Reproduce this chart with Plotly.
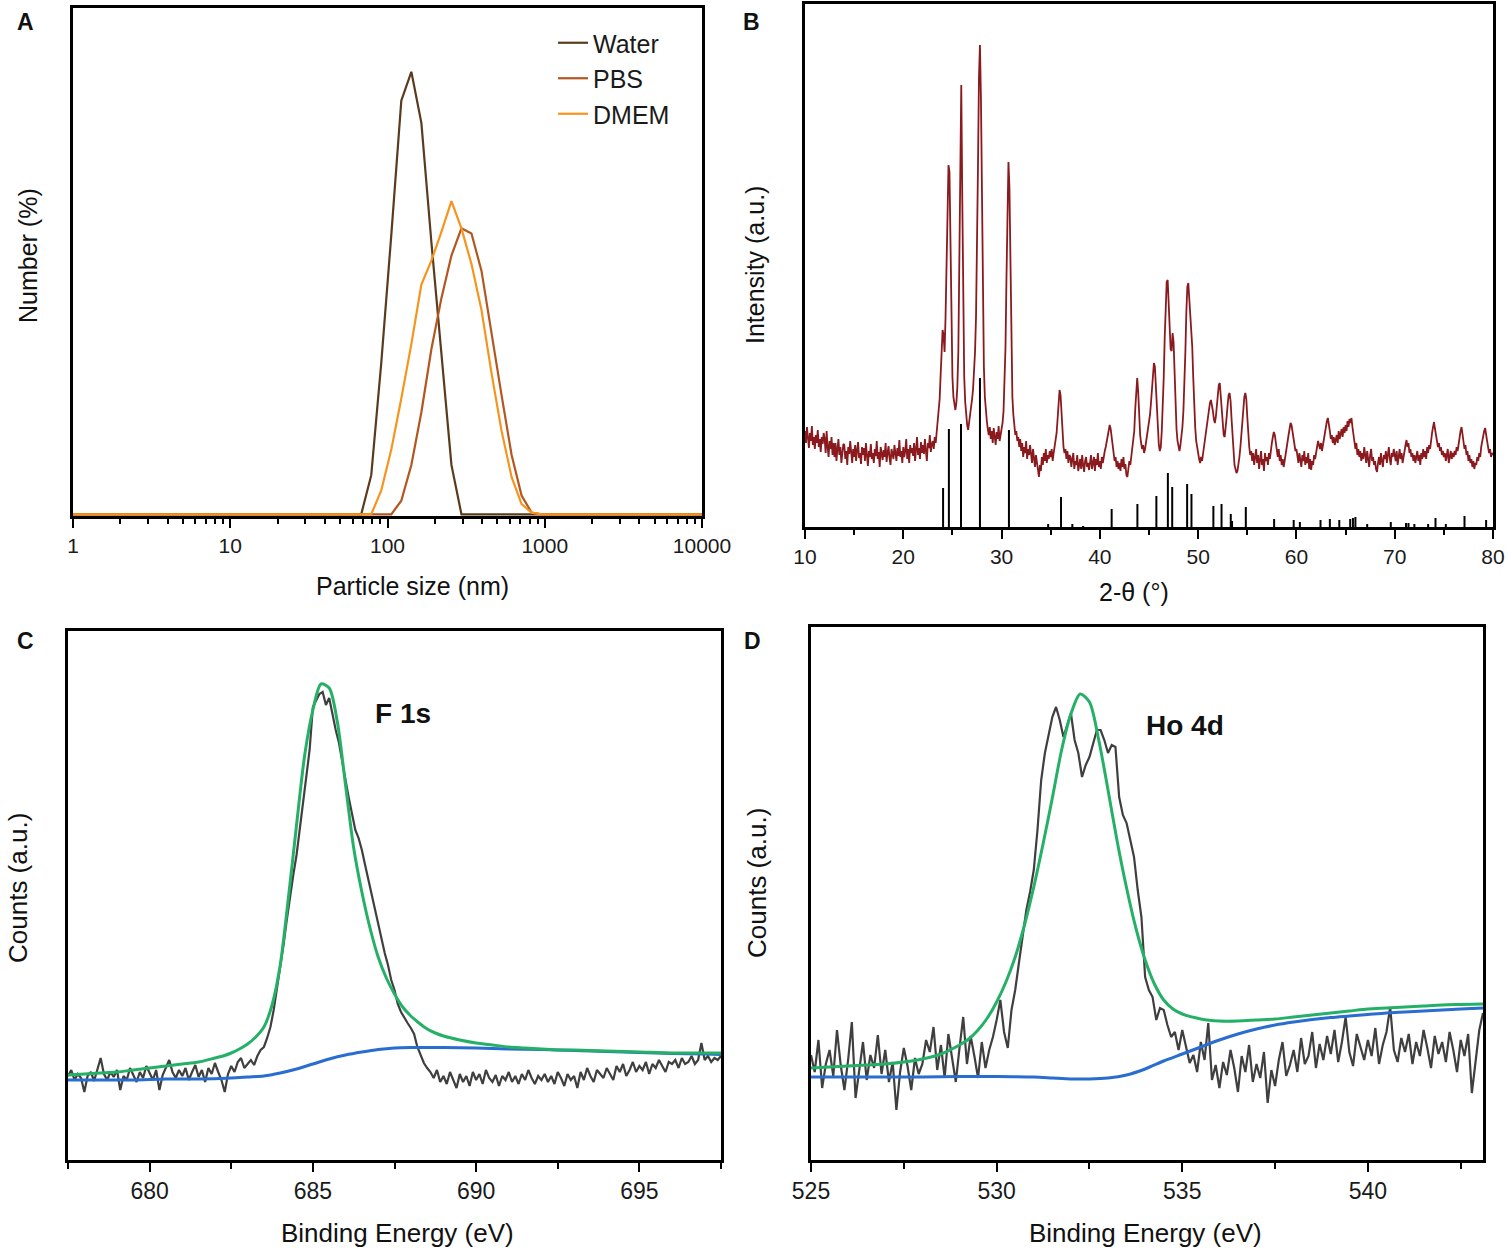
import numpy as np
import plotly.graph_objects as go

W, H = 1510, 1255

# ---------------- Panel A : DLS size distribution ----------------
size_nm = [1, 68.06, 78.82, 91.28, 105.7, 122.4, 141.8, 164.2, 190.1, 220.2, 255.0, 295.3,
           342.0, 396.1, 458.7, 531.2, 615.1, 712.4, 825.0, 955.4, 10000]
water = [0, 0, 2.3, 8.9, 16.4, 24.3, 26.0, 23.0, 16.0, 9.3, 2.9, 0,
         0, 0, 0, 0, 0, 0, 0, 0, 0]
pbs = [0, 0, 0, 0, 0, 0.8, 2.9, 6.0, 9.7, 12.7, 15.2, 16.8,
       16.5, 14.3, 10.6, 7.0, 3.5, 1.1, 0.1, 0, 0]
dmem = [0, 0, 0, 1.4, 3.8, 6.8, 10.0, 13.5, 14.9, 16.6, 18.4, 16.8,
        14.7, 12.0, 8.3, 4.9, 2.2, 0.6, 0.1, 0, 0]
a_ticks = [1, 10, 100, 1000, 10000]
a_ticktext = ["1", "10", "100", "1000", "10000"]

# ---------------- Panel B : XRD ----------------
theta_start, theta_step = 10.0, 0.1
xrd = [
    96, 84, 100, 88, 79, 94, 86, 101, 82, 90,
    78, 92, 84, 97, 80, 88, 75, 90, 83, 94,
    88, 74, 96, 80, 70, 86, 78, 90, 72, 84,
    70, 84, 66, 78, 88, 72, 80, 64, 76, 83,
    82, 68, 76, 62, 80, 73, 86, 70, 64, 78,
    70, 82, 66, 77, 85, 69, 74, 63, 80, 72,
    79, 66, 84, 72, 61, 76, 70, 83, 68, 74,
    64, 78, 71, 86, 68, 75, 60, 80, 73, 67,
    77, 70, 84, 65, 74, 81, 69, 62, 78, 72,
    68, 82, 74, 66, 79, 71, 87, 70, 76, 64,
    80, 70, 76, 88, 68, 78, 64, 82, 74, 79,
    71, 84, 66, 77, 90, 72, 79, 68, 85, 74,
    82, 73, 88, 76, 66, 84, 79, 92, 75, 83,
    86, 78, 90, 84, 95, 100, 112, 128, 152, 182,
    197, 192, 175, 210, 260, 320, 362, 355, 270, 190,
    150, 130, 120, 117, 124, 140, 175, 260, 380, 442,
    330, 210, 150, 125, 110, 102, 97, 104, 112, 120,
    128, 138, 152, 175, 210, 270, 360, 450, 482, 430,
    320, 220, 160, 130, 114, 106, 98, 92, 100, 88,
    96, 84, 99, 90, 82, 95, 88, 101, 86, 92,
    98, 104, 116, 140, 180, 250, 330, 365, 340, 250,
    170, 130, 112, 100, 92, 96, 86, 90, 80, 88,
    76, 84, 70, 80, 74, 86, 68, 78, 72, 82,
    74, 64, 78, 68, 60, 72, 66, 58, 50, 62,
    56, 70, 62, 74, 66, 78, 64, 72, 68, 76,
    70, 78, 66, 74, 80, 84, 94, 108, 125, 137,
    132, 110, 92, 80, 74, 78, 68, 76, 64, 72,
    70, 60, 68, 74, 58, 66, 62, 72, 56, 64,
    68, 58, 72, 62, 55, 66, 70, 60, 64, 57,
    66, 72, 58, 64, 70, 56, 68, 62, 74, 60,
    66, 58, 70, 64, 72, 76, 80, 86, 94, 100,
    102, 98, 90, 80, 74, 66, 70, 60, 66, 58,
    64, 56, 68, 60, 70, 58, 63, 52, 50, 60,
    66, 62, 70, 76, 84, 96, 118, 140, 149, 135,
    110, 92, 84, 78, 82, 74, 78, 84, 90, 98,
    104, 112, 124, 140, 156, 164, 160, 140, 112, 92,
    82, 76, 80, 96, 120, 150, 190, 225, 245, 247,
    225, 195, 178, 176, 194, 185, 150, 120, 98, 86,
    80, 76, 82, 90, 100, 116, 140, 175, 215, 240,
    244, 228, 205, 194, 180, 150, 120, 100, 86, 78,
    72, 68, 64, 70, 66, 74, 80, 88, 96, 104,
    112, 118, 124, 127, 122, 116, 108, 104, 110, 120,
    132, 142, 144, 130, 112, 98, 92, 90, 98, 110,
    122, 132, 134, 126, 108, 88, 72, 62, 58, 54,
    56, 62, 70, 80, 92, 106, 120, 130, 134, 128,
    110, 92, 80, 72, 76, 66, 74, 62, 70, 78,
    64, 72, 58, 70, 76, 62, 68, 56, 74, 66,
    70, 62, 74, 68, 78, 84, 90, 95, 92, 84,
    76, 70, 78, 66, 72, 62, 68, 60, 66, 74,
    80, 86, 92, 98, 104, 102, 96, 88, 82, 76,
    78, 70, 64, 74, 68, 60, 72, 66, 76, 62,
    70, 64, 74, 58, 68, 57, 66, 62, 72, 68,
    74, 80, 86, 82, 78, 84, 76, 82, 88, 96,
    100, 106, 109, 104, 96, 88, 92, 84, 90, 82,
    86, 92, 84, 96, 88, 94, 98, 90, 100, 94,
    102, 96, 106, 100, 108, 104, 109, 100, 92, 84,
    78, 84, 72, 78, 70, 76, 66, 74, 68, 80,
    72, 64, 76, 68, 60, 72, 78, 66, 70, 62,
    66, 58, 55, 64, 70, 62, 74, 66, 60, 72,
    68, 76, 64, 72, 80, 68, 62, 74, 70, 78,
    72, 66, 76, 62, 70, 78, 68, 74, 64, 72,
    76, 82, 87, 80, 84, 74, 78, 70, 74, 66,
    72, 64, 70, 76, 66, 72, 62, 74, 68, 78,
    70, 76, 68, 80, 74, 82, 78, 88, 94, 100,
    105, 98, 90, 86, 80, 84, 76, 80, 72, 76,
    70, 74, 66, 72, 78, 64, 70, 76, 68, 74,
    70, 76, 72, 80, 76, 84, 90, 96, 100, 94,
    86, 78, 82, 72, 76, 66, 72, 64, 68, 60,
    66, 58, 64, 62, 70, 66, 74, 70, 80, 86,
    92, 96, 99, 94, 86, 80, 74, 78, 70, 74,
    72,
]
stick_pos = [24.05, 24.64, 25.87, 27.8, 30.75, 34.74, 36.05, 37.2, 38.3, 41.2, 43.82, 45.75,
             46.92, 47.36, 48.88, 49.32, 51.55, 52.38, 53.32, 53.45, 54.85, 57.73, 59.72, 60.35,
             62.45, 63.4, 64.36, 65.47, 65.75, 66.0, 67.2, 69.6, 71.15, 71.4, 72.0, 73.4, 74.15,
             75.2, 77.1, 79.3]
stick_h = [39, 98, 103, 149, 97, 3, 30, 3, 1, 18, 23, 31,
           54, 40, 43, 33, 21, 23, 13, 6, 20, 8, 7, 5,
           7, 8, 7, 8, 9, 10, 3, 5, 4, 4, 3, 3, 9,
           3, 11, 7]

# ---------------- Panel C : XPS F 1s ----------------
c_start, c_step = 677.5, 0.1
c_counts = [
    84, 90, 80, 86, 82,
    68, 84, 88, 79, 92, 102, 86, 80, 88, 83,
    90, 70, 84, 80, 92, 85, 78, 88, 82, 94,
    86, 80, 90, 70, 85, 92, 100, 88, 82, 90,
    84, 92, 80, 88, 95, 83, 90, 78, 92, 86,
    97, 88, 80, 68, 86, 94, 88, 98, 102, 92,
    96, 100, 95, 104, 110, 113, 122, 133, 150, 172,
    190, 215, 240, 265, 285, 305, 330, 360, 385, 410,
    453, 460, 466, 468, 455, 462, 445, 430, 417, 400,
    380, 362, 345, 330, 322, 310, 295, 280, 267, 250,
    238, 222, 207, 195, 180, 170, 156, 148, 142, 137,
    132, 126, 113, 104, 97, 92, 88, 82, 90, 78,
    84, 76, 88, 80, 72, 86, 78, 84, 74, 88,
    80, 86, 76, 90, 82, 78, 85, 74, 84, 80,
    88, 78, 84, 76, 86, 80, 90, 82, 76, 84,
    80, 86, 78, 84, 76, 88, 82, 74, 86, 80,
    84, 72, 88, 80, 92, 84, 78, 90, 86, 82,
    92, 86, 80, 94, 88, 96, 84, 90, 98, 88,
    94, 90, 98, 86, 96, 92, 100, 94, 88, 98,
    96, 100, 92, 102, 96, 98, 104, 96, 100, 117,
    100, 104, 98, 102, 100, 104,
]
c_fit_x = [677.5, 678.0, 678.5, 679.0, 679.5, 680.0, 680.5, 681.0, 681.5, 682.0, 682.25, 682.5,
           682.75, 683.0, 683.25, 683.5, 683.75, 684.0, 684.25, 684.5, 684.75, 685.0, 685.25,
           685.5, 685.75, 686.0, 686.25, 686.5, 686.75, 687.0, 687.25, 687.5, 687.75, 688.0,
           688.25, 688.5, 688.75, 689.0, 689.5, 690.0, 690.5, 691.0, 691.5, 692.0, 692.5,
           693.0, 694.0, 695.0, 696.0, 697.0, 697.5]
c_fit_y = [85, 86, 87, 88, 90, 92, 94, 96, 98, 102, 104, 107,
           111, 116, 123, 133, 155, 195, 262, 335, 405, 450, 476,
           472, 438, 375, 312, 268, 232, 203, 182, 166, 153, 144,
           137, 131, 127, 124, 120, 117, 115, 113, 112, 111, 110,
           110, 109, 108, 107, 107, 107]
c_bg_x = [677.5, 678.5, 679.5, 680.5, 681.5, 682.5, 683.0, 683.5, 684.0, 684.5, 685.0, 685.5,
          686.0, 686.5, 687.0, 687.5, 688.0, 689.0, 690.0, 691.0, 692.0, 693.0, 694.0, 695.0,
          696.0, 697.0, 697.5]
c_bg_y = [80, 80, 80, 81, 81, 82, 83, 84, 87, 91, 96, 101,
          105, 108, 110.5, 112, 112.5, 112.5, 112, 111, 110.5, 109.5, 108.5, 107.5,
          106.5, 106, 105.5]

# ---------------- Panel D : XPS Ho 4d ----------------
d_start, d_step = 525.0, 0.1
d_counts = [
    105, 88, 120, 72, 96, 110, 84, 130, 95, 70,
    100, 138, 62, 90, 118, 80, 105, 92, 125, 86,
    110, 78, 98, 50, 88, 112, 94, 70, 102, 86,
    96, 120, 108, 133, 90, 115, 82, 126, 100, 78,
    112, 143, 96, 124, 104, 82, 118, 92, 110, 123,
    140, 160, 128, 112, 150, 170, 197, 225, 250, 268,
    290, 330, 380, 407, 425, 443, 453, 440, 423, 435,
    447, 420, 407, 383, 395, 403, 418, 430, 430, 420,
    407, 415, 413, 363, 345, 337, 320, 303, 270, 243,
    183, 170, 163, 140, 152, 150, 135, 123, 128, 110,
    130, 115, 97, 105, 88, 118, 100, 137, 80, 95,
    72, 98, 85, 110, 92, 68, 104, 88, 115, 78,
    96, 82, 108, 57, 90, 74, 100, 118, 84, 95,
    110, 88, 122, 96, 104, 128, 92, 116, 100, 124,
    106, 130, 98, 118, 143, 108, 94, 126, 112, 100,
    120, 104, 132, 96, 115, 128, 153, 110, 98, 122,
    108, 126, 96, 118, 104, 130, 112, 92, 124, 106,
    118, 98, 128, 110, 88, 120, 104, 126, 67, 100,
    130, 147,
]
d_fit_x = [525.0, 525.5, 526.0, 526.5, 527.0, 527.5, 528.0, 528.5, 529.0, 529.25, 529.5, 529.75,
           530.0, 530.25, 530.5, 530.75, 531.0, 531.25, 531.5, 531.75, 532.0, 532.25, 532.5,
           532.75, 533.0, 533.25, 533.5, 533.75, 534.0, 534.25, 534.5, 534.75, 535.0, 535.5,
           536.0, 536.5, 537.0, 537.5, 538.0, 538.5, 539.0, 539.5, 540.0, 540.5, 541.0, 541.5,
           542.0, 542.5, 543.1]
d_fit_y = [92, 93, 94, 95, 96, 98, 101, 106, 115, 121, 130, 142,
           158, 178, 203, 235, 273, 316, 362, 410, 446, 466, 458,
           420, 370, 318, 272, 232, 200, 176, 160, 151, 146, 141,
           139, 139, 140, 141, 143, 145, 147, 149, 151, 152, 153, 154,
           155, 155.5, 156]
d_bg_x = [525, 526, 527, 528, 529, 530, 531, 531.5, 532, 532.5, 533, 533.5, 534, 534.5, 535,
          535.5, 536, 536.5, 537, 537.5, 538, 538.5, 539, 539.5, 540, 540.5, 541, 541.5, 542,
          542.5, 543.1]
d_bg_y = [83, 83, 83, 83, 83.5, 83.5, 83, 82, 81, 81, 82, 85, 91, 99, 106,
          113, 120, 126, 131, 135, 138, 140.5, 142.5, 144, 145.5, 147, 148, 149, 150,
          151, 152]

# ---------------- derived x grids ----------------
theta = np.round(theta_start + theta_step * np.arange(len(xrd)), 2)
c_be = np.round(c_start + c_step * np.arange(len(c_counts)), 2)
d_be = np.round(d_start + d_step * np.arange(len(d_counts)), 2)

stick_x, stick_y = [], []
for p, h in zip(stick_pos, stick_h):
    stick_x += [p, p, None]
    stick_y += [0, h, None]

FONT = "Liberation Sans, Arial, Helvetica, sans-serif"
GREY = "#3f3f3f"
GREEN = "#25b067"
BLUE = "#2a6dd0"

fig = go.Figure()

# Panel A
fig.add_trace(go.Scatter(x=size_nm, y=water, name="Water", mode="lines",
                         line=dict(color="#5a3b1d", width=2.2), xaxis="x", yaxis="y"))
fig.add_trace(go.Scatter(x=size_nm, y=pbs, name="PBS", mode="lines",
                         line=dict(color="#b3561f", width=2.2), xaxis="x", yaxis="y"))
fig.add_trace(go.Scatter(x=size_nm, y=dmem, name="DMEM", mode="lines",
                         line=dict(color="#f7941e", width=2.2), xaxis="x", yaxis="y"))

# Panel B
fig.add_trace(go.Scatter(x=theta, y=xrd, mode="lines", showlegend=False,
                         line=dict(color="#8b1a1e", width=1.8), xaxis="x2", yaxis="y2"))
fig.add_trace(go.Scatter(x=stick_x, y=stick_y, mode="lines", showlegend=False,
                         line=dict(color="black", width=2), xaxis="x2", yaxis="y2"))

# Panel C
fig.add_trace(go.Scatter(x=c_be, y=c_counts, mode="lines", showlegend=False,
                         line=dict(color=GREY, width=2.2), xaxis="x3", yaxis="y3"))
fig.add_trace(go.Scatter(x=c_bg_x, y=c_bg_y, mode="lines", showlegend=False,
                         line=dict(color=BLUE, width=3, shape="spline", smoothing=0.8),
                         xaxis="x3", yaxis="y3"))
fig.add_trace(go.Scatter(x=c_fit_x, y=c_fit_y, mode="lines", showlegend=False,
                         line=dict(color=GREEN, width=3, shape="spline", smoothing=0.8),
                         xaxis="x3", yaxis="y3"))

# Panel D
fig.add_trace(go.Scatter(x=d_be, y=d_counts, mode="lines", showlegend=False,
                         line=dict(color=GREY, width=2.2), xaxis="x4", yaxis="y4"))
fig.add_trace(go.Scatter(x=d_bg_x, y=d_bg_y, mode="lines", showlegend=False,
                         line=dict(color=BLUE, width=3, shape="spline", smoothing=0.8),
                         xaxis="x4", yaxis="y4"))
fig.add_trace(go.Scatter(x=d_fit_x, y=d_fit_y, mode="lines", showlegend=False,
                         line=dict(color=GREEN, width=3, shape="spline", smoothing=0.8),
                         xaxis="x4", yaxis="y4"))


def px(x):
    return x / W


def py(y):
    return 1 - y / H


box = dict(showline=True, linecolor="black", linewidth=2.5, mirror=True,
           zeroline=False, showgrid=False, automargin=False)
yhide = dict(showticklabels=False, ticks="", **box)

minor_a = [m * 10 ** e for e in range(0, 4) for m in range(2, 10)]

layout = dict(
    width=W, height=H,
    margin=dict(l=0, r=0, t=0, b=0, pad=0, autoexpand=False),
    paper_bgcolor="white", plot_bgcolor="white",
    font=dict(family=FONT, color="#1a1a1a"),
    showlegend=True,
    legend=dict(x=px(553), y=py(20), xanchor="left", yanchor="top",
                bgcolor="rgba(0,0,0,0)", font=dict(size=25, family=FONT, color="#1a1a1a")),
    xaxis=dict(domain=[px(73), px(702)], anchor="y", type="log", range=[0, 4],
               tickmode="array", tickvals=a_ticks, ticktext=a_ticktext,
               ticks="outside", ticklen=9, tickwidth=2, tickcolor="black",
               minor=dict(tickmode="array", tickvals=minor_a, ticks="outside",
                          ticklen=5, tickwidth=2, tickcolor="black"),
               tickfont=dict(size=21), **box),
    yaxis=dict(domain=[py(516), py(8)], anchor="x", range=[-0.1, 29.75], **yhide),
    xaxis2=dict(domain=[px(805), px(1493)], anchor="y2", range=[10, 80],
                tick0=10, dtick=10, ticks="outside", ticklen=9, tickwidth=2, tickcolor="black",
                minor=dict(dtick=5, tick0=10, ticks="outside", ticklen=5, tickwidth=2,
                           tickcolor="black"),
                tickfont=dict(size=21), **box),
    yaxis2=dict(domain=[py(527), py(4)], anchor="x2", range=[0, 523], **yhide),
    xaxis3=dict(domain=[px(68), px(721)], anchor="y3", range=[677.5, 697.5],
                tick0=680, dtick=5, ticks="outside", ticklen=9, tickwidth=2, tickcolor="black",
                minor=dict(dtick=2.5, tick0=680, ticks="outside", ticklen=6, tickwidth=2,
                           tickcolor="black"),
                tickfont=dict(size=23), **box),
    yaxis3=dict(domain=[py(1160), py(631)], anchor="x3", range=[0, 529], **yhide),
    xaxis4=dict(domain=[px(811), px(1483)], anchor="y4", range=[525, 543.1],
                tick0=525, dtick=5, ticks="outside", ticklen=9, tickwidth=2, tickcolor="black",
                minor=dict(dtick=2.5, tick0=525, ticks="outside", ticklen=6, tickwidth=2,
                           tickcolor="black"),
                tickfont=dict(size=23), **box),
    yaxis4=dict(domain=[py(1160), py(627)], anchor="x4", range=[0, 533], **yhide),
)
fig.update_layout(**layout)


def note(text, x, y, size, bold=False, angle=0):
    fig.add_annotation(text=f"<b>{text}</b>" if bold else text,
                       x=px(x), y=py(y), xref="paper", yref="paper",
                       xanchor="center", yanchor="middle", showarrow=False,
                       textangle=angle, font=dict(size=size, family=FONT, color="#111111"))


# panel letters
note("A", 25, 22, 23, bold=True)
note("B", 751, 22, 23, bold=True)
note("C", 25, 641, 23, bold=True)
note("D", 752, 641, 23, bold=True)

# axis titles
note("Particle size (nm)", 412, 586, 25)
note("Number (%)", 28, 256, 25, angle=-90)
note("2-θ (°)", 1134, 592, 25)
note("Intensity (a.u.)", 755, 265, 25, angle=-90)
note("Binding Energy (eV)", 397, 1233, 26)
note("Counts (a.u.)", 18, 888, 26, angle=-90)
note("Binding Energy (eV)", 1145, 1233, 26)
note("Counts (a.u.)", 757, 883, 26, angle=-90)

# peak labels
note("F 1s", 403, 713, 28, bold=True)
note("Ho 4d", 1185, 725, 28, bold=True)

fig.write_html("out.html",
               config={"displayModeBar": False},
               post_script="document.body.style.margin='0px';"
                           "document.body.style.padding='0px';"
                           "document.body.style.overflow='hidden';")
